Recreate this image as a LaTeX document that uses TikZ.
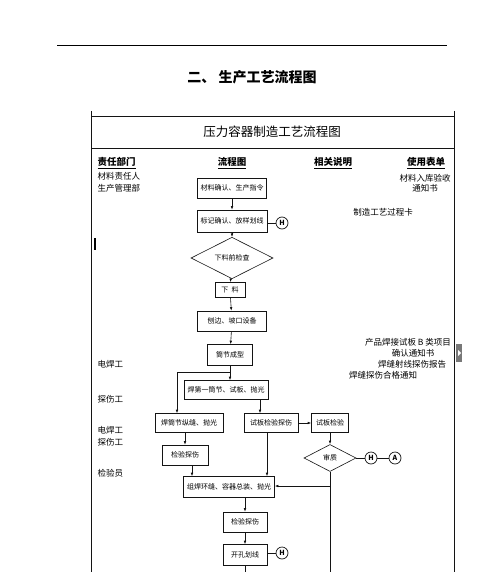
\documentclass[tikz,border=0pt]{standalone}
\usepackage{fontspec}
\setmainfont{Noto Sans CJK SC}
\usepackage{xcolor}
\definecolor{pgline}{RGB}{20,20,20}
\definecolor{pgtab}{RGB}{120,120,120}
\usetikzlibrary{arrows.meta, positioning, shapes.geometric}

\tikzset{
  arr/.style={-{Latex[length=3.5pt,width=2.6pt]}, pgline, line width=0.6pt},
  link/.style={pgline, line width=0.6pt},
  procbox/.style={draw=pgline, line width=0.6pt, inner sep=1pt, minimum height=20pt,
                  font=\fontsize{7}{8}\selectfont},
  checkdia/.style={draw=pgline, line width=0.6pt, diamond, inner sep=0pt,
                   font=\fontsize{7}{8}\selectfont},
  markcirc/.style={draw=pgline, line width=0.7pt, circle, inner sep=0pt, minimum size=12pt,
                   font=\fontsize{7}{7}\selectfont\bfseries},
  colhead/.style={font=\fontsize{9.5}{10}\selectfont\bfseries},
  sidetext/.style={font=\fontsize{8.5}{10}\selectfont},
}

\begin{document}
\begin{tikzpicture}[x=1pt, y=-1pt]
  \useasboundingbox[fill=white] (0,0) rectangle (500,572);

  % page rule and heading
  \draw[line width=1pt] (57,46) -- (447,46);
  \node[font=\fontsize{14}{16}\selectfont\bfseries] (pagetitle) at (252,77) {二、\ 生产工艺流程图};

  % frame of the chart
  \draw[link] (91,111) -- (91,572);
  \draw[link] (454,111) -- (454,572);
  \draw[link] (91,116) -- (454,116);
  \draw[link] (91,148) -- (454,148);
  \node[font=\fontsize{12.5}{14}\selectfont] (charttitle) at (272,132) {压力容器制造工艺流程图};

  % column heads
  \node[colhead, anchor=west] (hdept) at (94,163) {\underline{责任部门}};
  \node[colhead] (hflow) at (232,163) {\underline{流程图}};
  \node[colhead] (hnote) at (333,163) {\underline{相关说明}};
  \node[colhead] (hform) at (426,163) {\underline{使用表单}};

  % departments
  \node[sidetext, anchor=west] (dmat) at (94,176) {材料责任人};
  \node[sidetext, anchor=west] (dprod) at (94,188) {生产管理部};
  \draw[line width=1.2pt] (95,238) -- (95,250);
  \node[sidetext, anchor=west] (dweld1) at (94,364) {电焊工};
  \node[sidetext, anchor=west] (dndt1) at (94,399) {探伤工};
  \node[sidetext, anchor=west] (dweld2) at (94,430) {电焊工};
  \node[sidetext, anchor=west] (dndt2) at (94,442) {探伤工};
  \node[sidetext, anchor=west] (dinsp) at (94,473) {检验员};

  % forms and notes
  \node[sidetext, align=center] (fmat) at (425,183) {材料入库验收\\通知书};
  \node[sidetext] (fcard) at (383,212) {制造工艺过程卡};
  \node[sidetext] (fplate) at (408,342) {产品焊接试板 B 类项目};
  \node[sidetext] (fconf) at (413,353) {确认通知书};
  \node[sidetext] (frt) at (412,364) {焊缝射线探伤报告};
  \node[sidetext] (fok) at (383,375) {焊缝探伤合格通知};

  % flow chart
  \node[procbox, minimum width=69pt] (confirm) at (232,188) {材料确认、生产指令};
  \node[procbox, minimum width=70pt, minimum height=22pt] (marking) at (232,221) {标记确认、放样划线};
  \node[markcirc] (hold1) at (282,223) {H};
  \node[checkdia, minimum width=82pt, minimum height=26pt] (precheck) at (232,258) {下料前检查};
  \node[procbox, minimum width=30pt, minimum height=15pt] (cutting) at (230,290) {下\ \ 料};
  \node[procbox, minimum width=69pt] (bevel) at (232,321) {刨边、坡口设备};
  \node[procbox, minimum width=45pt, minimum height=21pt] (rolling) at (230,355) {筒节成型};
  \coordinate (split) at (230,372);
  \node[procbox, minimum width=84pt, minimum height=19pt] (firstweld) at (226,390) {焊第一筒节、试板、抛光};
  \node[procbox, minimum width=68pt, minimum height=19pt] (seamweld) at (189,423) {焊筒节纵缝、抛光};
  \node[procbox, minimum width=54pt, minimum height=19pt] (plategtest) at (271,423) {试板检验探伤};
  \node[procbox, minimum width=37pt, minimum height=19pt] (platetest) at (330,423) {试板检验};
  \node[procbox, minimum width=46pt, minimum height=20pt] (seamndt) at (185,455) {检验探伤};
  \node[checkdia, minimum width=52pt, minimum height=27pt] (review) at (330,458) {审质};
  \node[markcirc] (hold2) at (371,458) {H};
  \node[markcirc] (audit) at (395,458) {A};
  \node[procbox, minimum width=91pt, minimum height=21pt] (assembly) at (229,487) {组焊环缝、容器总装、抛光};
  \node[procbox, minimum width=44pt, minimum height=20pt] (finalndt) at (245,522) {检验探伤};
  \node[procbox, minimum width=44pt, minimum height=21pt] (drilling) at (245,555) {开孔划线};
  \node[markcirc] (hold3) at (282,553) {H};
  \coordinate (join) at (330,486);
  \coordinate (reviewend) at (330,572);

  % connectors
  \draw[arr] (confirm) -- (marking);
  \draw[link] (marking.east |- hold1) -- (hold1);
  \draw[arr] (marking) -- (precheck);
  \draw[arr] (precheck) -- (cutting);
  \draw[arr] (cutting) -- (bevel);
  \draw[arr] (bevel) -- (rolling);
  \draw[link] (rolling.south) -- (split);
  \draw[arr] (split) -- (split |- firstweld.north);
  \draw[arr] (split) -| ([xshift=-12pt]seamweld.north);
  \draw[arr] ([xshift=-11pt]plategtest.north |- firstweld.south) -- ([xshift=-11pt]plategtest.north);
  \draw[arr] (plategtest) -- (platetest);
  \draw[arr] (seamndt.north |- seamweld.south) -- (seamndt.north);
  \draw[arr] (platetest) -- (review);
  \draw[link] (review) -- (hold2);
  \draw[link] (hold2) -- (audit);
  \draw[arr] ([xshift=7pt]seamndt.south) -- ([xshift=7pt]seamndt.south |- assembly.north);
  \draw[arr] ([xshift=-4pt]plategtest.south) -- ([xshift=-4pt]plategtest.south |- assembly.north);
  \draw[link] (review.south) -- (reviewend);
  \draw[arr] (join) -- (assembly.east |- join);
  \draw[arr] (finalndt.north |- assembly.south) -- (finalndt.north);
  \draw[arr] (finalndt) -- (drilling);
  \draw[link] (drilling.east |- hold3) -- (hold3);
  \draw[link] (drilling.south) -- (drilling.south |- reviewend);

  % page tab on the right edge
  \fill[pgtab] (456,344) rectangle (462,362);
  \fill[white] (458,350) -- (461,353) -- (458,356) -- cycle;
\end{tikzpicture}
\end{document}
